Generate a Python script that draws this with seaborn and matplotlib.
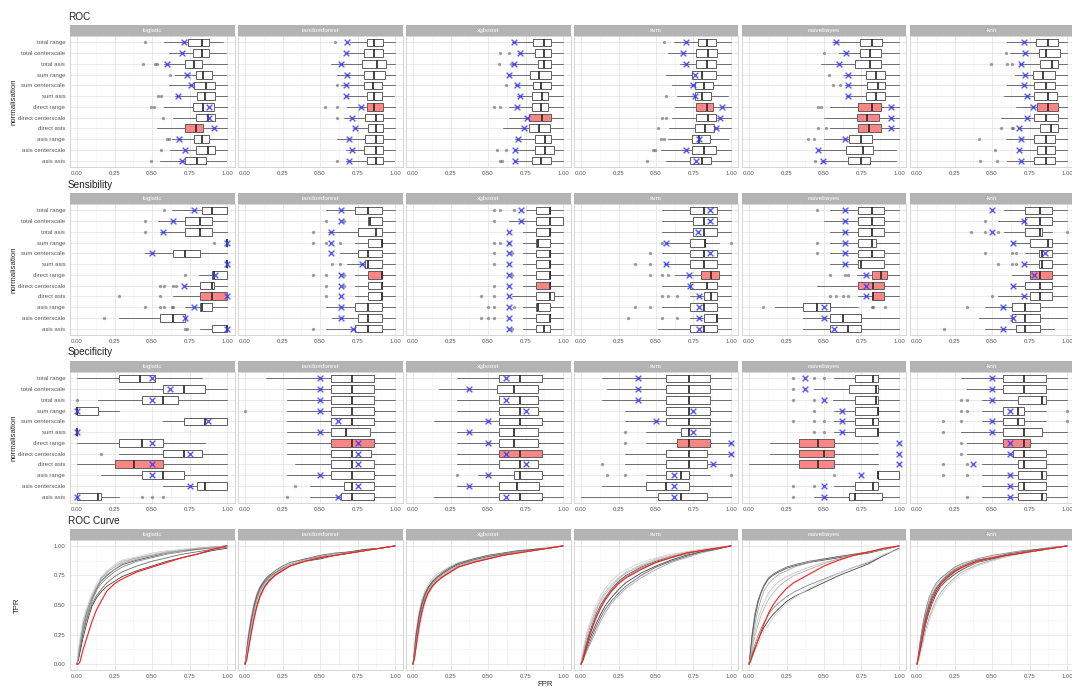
import matplotlib
matplotlib.use('Agg')
import matplotlib.pyplot as plt
import pandas as pd
import seaborn as sns

MODELS = ['logistic', 'randomforest', 'xgboost', 'svm', 'naivebayes', 'knn']
NORMALISATIONS = ['total range', 'total centerscale', 'total asis',
                  'sum range', 'sum centerscale', 'sum asis',
                  'direct range', 'direct centerscale', 'direct asis',
                  'asis range', 'asis centerscale', 'asis asis']
HIGHLIGHT = {
    'logistic': ['direct asis'],
    'randomforest': ['direct range'],
    'xgboost': ['direct centerscale'],
    'svm': ['direct range'],
    'naivebayes': ['direct range', 'direct centerscale', 'direct asis'],
    'knn': ['direct range'],
}

# one row per normalisation: (whisker low, q1, median, q3, whisker high, cross, outliers)
ROC_LOGISTIC = [
    (0.58, 0.74, 0.83, 0.88, 0.97, 0.71, [0.45]),
    (0.61, 0.77, 0.83, 0.88, 0.99, 0.70, []),
    (0.58, 0.72, 0.78, 0.83, 1.00, 0.60, [0.44, 0.52, 0.53]),
    (0.65, 0.79, 0.84, 0.90, 0.99, 0.73, [0.62]),
    (0.61, 0.78, 0.86, 0.92, 1.00, 0.76, []),
    (0.65, 0.80, 0.85, 0.92, 1.00, 0.67, [0.54, 0.56]),
    (0.58, 0.77, 0.84, 0.91, 1.00, 0.88, [0.49, 0.51]),
    (0.64, 0.79, 0.87, 0.92, 1.00, 0.88, [0.57]),
    (0.53, 0.72, 0.79, 0.84, 1.00, 0.91, []),
    (0.63, 0.78, 0.83, 0.88, 1.00, 0.68, [0.60, 0.61]),
    (0.62, 0.79, 0.87, 0.92, 1.00, 0.72, [0.56]),
    (0.55, 0.72, 0.80, 0.86, 0.99, 0.70, [0.49]),
]
ROC_RANDOMFOREST = [
    (0.70, 0.81, 0.86, 0.92, 1.00, 0.68, [0.60]),
    (0.68, 0.79, 0.86, 0.92, 1.00, 0.67, []),
    (0.57, 0.78, 0.88, 0.94, 1.00, 0.64, []),
    (0.61, 0.79, 0.86, 0.93, 1.00, 0.68, []),
    (0.64, 0.79, 0.85, 0.91, 1.00, 0.67, [0.61]),
    (0.67, 0.81, 0.86, 0.91, 0.99, 0.67, []),
    (0.68, 0.81, 0.86, 0.92, 1.00, 0.77, [0.53, 0.61]),
    (0.66, 0.80, 0.87, 0.92, 1.00, 0.71, [0.61]),
    (0.72, 0.82, 0.87, 0.92, 1.00, 0.73, []),
    (0.61, 0.80, 0.87, 0.92, 1.00, 0.69, []),
    (0.67, 0.79, 0.87, 0.92, 1.00, 0.71, []),
    (0.67, 0.81, 0.87, 0.92, 0.99, 0.69, [0.61]),
]
ROC_XGBOOST = [
    (0.66, 0.80, 0.87, 0.92, 1.00, 0.67, []),
    (0.70, 0.81, 0.87, 0.92, 1.00, 0.71, [0.58, 0.64]),
    (0.66, 0.83, 0.87, 0.92, 1.00, 0.67, [0.57, 0.65]),
    (0.63, 0.78, 0.84, 0.92, 1.00, 0.64, []),
    (0.68, 0.80, 0.85, 0.92, 1.00, 0.69, [0.62]),
    (0.69, 0.79, 0.86, 0.90, 1.00, 0.71, []),
    (0.64, 0.79, 0.85, 0.90, 1.00, 0.69, [0.54, 0.58]),
    (0.64, 0.77, 0.86, 0.92, 1.00, 0.76, []),
    (0.60, 0.77, 0.84, 0.91, 1.00, 0.74, []),
    (0.68, 0.81, 0.88, 0.92, 1.00, 0.70, []),
    (0.67, 0.81, 0.88, 0.94, 1.00, 0.68, [0.56, 0.62]),
    (0.67, 0.79, 0.85, 0.92, 1.00, 0.68, [0.58, 0.59]),
]
ROC_SVM = [
    (0.62, 0.78, 0.84, 0.90, 1.00, 0.70, [0.55]),
    (0.58, 0.77, 0.85, 0.91, 1.00, 0.68, []),
    (0.66, 0.77, 0.84, 0.90, 1.00, 0.70, []),
    (0.57, 0.74, 0.81, 0.90, 1.00, 0.76, []),
    (0.61, 0.76, 0.82, 0.88, 1.00, 0.75, []),
    (0.64, 0.76, 0.81, 0.87, 0.98, 0.76, [0.57]),
    (0.63, 0.77, 0.84, 0.88, 1.00, 0.94, []),
    (0.61, 0.77, 0.85, 0.90, 1.00, 0.93, [0.54, 0.57]),
    (0.59, 0.76, 0.83, 0.89, 1.00, 0.90, [0.51]),
    (0.58, 0.74, 0.79, 0.86, 0.98, 0.79, [0.53, 0.55]),
    (0.53, 0.74, 0.82, 0.90, 1.00, 0.70, [0.48, 0.49]),
    (0.57, 0.73, 0.81, 0.87, 1.00, 0.77, [0.44]),
]
ROC_NAIVEBAYES = [
    (0.55, 0.74, 0.82, 0.89, 1.00, 0.58, []),
    (0.60, 0.74, 0.81, 0.88, 1.00, 0.65, [0.50]),
    (0.48, 0.71, 0.81, 0.88, 1.00, 0.60, []),
    (0.63, 0.78, 0.85, 0.91, 1.00, 0.66, [0.53]),
    (0.64, 0.79, 0.86, 0.91, 1.00, 0.66, [0.56, 0.61]),
    (0.65, 0.78, 0.85, 0.91, 1.00, 0.66, []),
    (0.54, 0.73, 0.82, 0.88, 1.00, 0.95, [0.46, 0.48]),
    (0.50, 0.72, 0.79, 0.87, 1.00, 0.95, []),
    (0.54, 0.73, 0.80, 0.88, 1.00, 0.95, [0.46, 0.51]),
    (0.50, 0.67, 0.75, 0.82, 1.00, 0.64, [0.39, 0.43]),
    (0.46, 0.65, 0.76, 0.83, 0.98, 0.46, []),
    (0.48, 0.66, 0.75, 0.81, 0.98, 0.49, [0.44]),
]
ROC_KNN = [
    (0.60, 0.79, 0.87, 0.94, 1.00, 0.71, []),
    (0.62, 0.81, 0.86, 0.95, 1.00, 0.72, [0.59]),
    (0.68, 0.82, 0.90, 0.94, 1.00, 0.69, [0.49, 0.60, 0.63]),
    (0.65, 0.77, 0.84, 0.92, 1.00, 0.72, []),
    (0.60, 0.78, 0.86, 0.92, 1.00, 0.71, []),
    (0.58, 0.78, 0.87, 0.93, 1.00, 0.73, []),
    (0.66, 0.80, 0.87, 0.94, 1.00, 0.77, []),
    (0.56, 0.78, 0.86, 0.94, 1.00, 0.73, []),
    (0.67, 0.82, 0.89, 0.94, 1.00, 0.68, [0.56, 0.63, 0.64]),
    (0.59, 0.78, 0.86, 0.92, 1.00, 0.69, [0.41]),
    (0.67, 0.80, 0.86, 0.92, 1.00, 0.68, [0.52]),
    (0.60, 0.78, 0.86, 0.92, 1.00, 0.69, [0.42, 0.53]),
]

SENS_LOGISTIC = [
    (0.63, 0.83, 0.90, 1.00, 1.00, 0.78, [0.58]),
    (0.54, 0.72, 0.82, 0.90, 1.00, 0.64, [0.45]),
    (0.55, 0.72, 0.82, 0.90, 1.00, 0.57, [0.45]),
    (1.00, 1.00, 1.00, 1.00, 1.00, 1.00, [0.91]),
    (0.45, 0.64, 0.72, 0.82, 1.00, 0.50, []),
    (1.00, 1.00, 1.00, 1.00, 1.00, 1.00, []),
    (0.81, 0.90, 0.91, 1.00, 1.00, 0.92, [0.72]),
    (0.72, 0.82, 0.90, 0.91, 1.00, 0.71, [0.55, 0.58, 0.64, 0.66]),
    (0.64, 0.82, 0.90, 1.00, 1.00, 1.00, [0.28, 0.55]),
    (0.72, 0.82, 0.83, 0.90, 1.00, 0.78, [0.45, 0.55, 0.58, 0.63, 0.64]),
    (0.28, 0.55, 0.64, 0.72, 0.72, 0.72, [0.18]),
    (0.82, 0.90, 1.00, 1.00, 1.00, 1.00, [0.72, 0.73]),
]
SENS_RANDOMFOREST = [
    (0.54, 0.73, 0.82, 0.91, 1.00, 0.64, []),
    (0.82, 0.82, 0.83, 0.91, 1.00, 0.64, [0.54, 0.66]),
    (0.55, 0.75, 0.87, 0.91, 1.00, 0.57, [0.45]),
    (0.73, 0.82, 0.91, 0.91, 1.00, 0.57, [0.45, 0.54, 0.63]),
    (0.63, 0.75, 0.82, 0.91, 1.00, 0.57, []),
    (0.68, 0.80, 0.82, 0.91, 1.00, 0.78, [0.58, 0.63]),
    (0.73, 0.82, 0.91, 0.91, 1.00, 0.64, [0.45, 0.54, 0.66]),
    (0.73, 0.82, 0.91, 0.91, 1.00, 0.64, [0.54, 0.66]),
    (0.73, 0.82, 0.91, 0.91, 1.00, 0.64, [0.54]),
    (0.54, 0.73, 0.82, 0.91, 1.00, 0.64, []),
    (0.58, 0.75, 0.82, 0.91, 1.00, 0.64, []),
    (0.54, 0.73, 0.82, 0.91, 1.00, 0.72, [0.45]),
]
SENS_XGBOOST = [
    (0.75, 0.82, 0.91, 0.91, 1.00, 0.72, [0.54, 0.58, 0.67]),
    (0.64, 0.82, 0.91, 1.00, 1.00, 0.72, [0.54]),
    (0.73, 0.82, 0.91, 0.91, 1.00, 0.64, []),
    (0.73, 0.82, 0.83, 0.91, 1.00, 0.64, [0.54, 0.58, 0.64]),
    (0.73, 0.82, 0.91, 0.91, 1.00, 0.64, [0.54, 0.66]),
    (0.73, 0.82, 0.91, 0.91, 1.00, 0.64, [0.54]),
    (0.73, 0.82, 0.91, 0.91, 1.00, 0.64, [0.66]),
    (0.73, 0.82, 0.91, 0.91, 1.00, 0.64, [0.54]),
    (0.66, 0.82, 0.91, 0.94, 1.00, 0.64, [0.45, 0.54]),
    (0.73, 0.82, 0.83, 0.91, 1.00, 0.64, [0.50, 0.54, 0.67]),
    (0.73, 0.82, 0.91, 0.91, 1.00, 0.64, [0.45, 0.50, 0.54]),
    (0.73, 0.82, 0.87, 0.91, 1.00, 0.64, [0.66]),
]
SENS_SVM = [
    (0.54, 0.73, 0.82, 0.91, 1.00, 0.86, []),
    (0.54, 0.75, 0.82, 0.91, 1.00, 0.86, []),
    (0.54, 0.75, 0.82, 0.91, 1.00, 0.78, []),
    (0.57, 0.73, 0.83, 0.83, 0.92, 0.57, [0.54, 1.00]),
    (0.54, 0.73, 0.82, 0.91, 1.00, 0.86, [0.46]),
    (0.55, 0.73, 0.82, 0.91, 1.00, 0.57, [0.36, 0.46]),
    (0.63, 0.80, 0.87, 0.92, 1.00, 0.72, [0.46, 0.54, 0.58]),
    (0.54, 0.73, 0.84, 0.91, 1.00, 0.73, []),
    (0.73, 0.82, 0.87, 0.91, 1.00, 0.79, [0.54, 0.58, 0.64]),
    (0.54, 0.73, 0.82, 0.91, 1.00, 0.79, [0.36, 0.46]),
    (0.73, 0.82, 0.91, 0.91, 1.00, 0.79, [0.31, 0.54, 0.64]),
    (0.51, 0.73, 0.82, 0.91, 1.00, 0.79, []),
]
SENS_NAIVEBAYES = [
    (0.54, 0.73, 0.82, 0.90, 1.00, 0.64, [0.45]),
    (0.50, 0.73, 0.82, 0.90, 1.00, 0.64, []),
    (0.54, 0.73, 0.82, 0.90, 1.00, 0.64, []),
    (0.54, 0.73, 0.82, 0.85, 1.00, 0.64, [0.45]),
    (0.54, 0.73, 0.82, 0.90, 1.00, 0.64, [0.45]),
    (0.54, 0.73, 0.75, 0.90, 1.00, 0.64, []),
    (0.72, 0.82, 0.88, 0.92, 1.00, 0.78, [0.54, 0.64, 0.66]),
    (0.45, 0.73, 0.83, 0.90, 1.00, 0.78, []),
    (0.73, 0.82, 0.83, 0.90, 1.00, 0.78, [0.54, 0.58, 0.63, 0.66]),
    (0.17, 0.36, 0.45, 0.54, 0.73, 0.50, [0.09, 0.82, 0.83, 0.91]),
    (0.36, 0.54, 0.63, 0.75, 1.00, 0.50, []),
    (0.36, 0.54, 0.66, 0.75, 1.00, 0.57, []),
]
SENS_KNN = [
    (0.58, 0.72, 0.82, 0.90, 1.00, 0.50, []),
    (0.54, 0.72, 0.82, 0.90, 1.00, 0.71, [0.45]),
    (0.58, 0.72, 0.82, 0.83, 0.90, 0.50, [0.36, 0.45, 0.54, 1.00]),
    (0.64, 0.75, 0.87, 0.90, 1.00, 0.64, []),
    (0.72, 0.81, 0.83, 0.90, 1.00, 0.85, [0.45, 0.63, 0.66]),
    (0.72, 0.81, 0.83, 0.90, 1.00, 0.71, [0.54, 0.63, 0.66]),
    (0.63, 0.75, 0.82, 0.90, 1.00, 0.78, []),
    (0.64, 0.72, 0.82, 0.90, 1.00, 0.64, []),
    (0.54, 0.75, 0.82, 0.90, 1.00, 0.71, [0.50]),
    (0.45, 0.63, 0.72, 0.82, 1.00, 0.57, [0.33]),
    (0.41, 0.63, 0.72, 0.82, 1.00, 0.64, []),
    (0.45, 0.66, 0.72, 0.82, 0.91, 0.57, [0.18]),
]

SPEC_LOGISTIC = [
    (0.00, 0.28, 0.42, 0.52, 0.83, 0.50, []),
    (0.28, 0.57, 0.71, 0.85, 1.00, 0.62, []),
    (0.14, 0.43, 0.57, 0.67, 1.00, 0.50, [0.00]),
    (0.00, 0.00, 0.00, 0.14, 0.28, 0.00, []),
    (0.57, 0.71, 0.85, 1.00, 1.00, 0.87, []),
    (0.00, 0.00, 0.00, 0.00, 0.00, 0.00, []),
    (0.00, 0.28, 0.43, 0.57, 0.85, 0.50, []),
    (0.28, 0.57, 0.71, 0.83, 1.00, 0.75, [0.16]),
    (0.00, 0.25, 0.38, 0.57, 1.00, 0.50, []),
    (0.16, 0.43, 0.57, 0.71, 1.00, 0.50, []),
    (0.57, 0.80, 0.85, 1.00, 1.00, 0.75, []),
    (0.00, 0.00, 0.14, 0.16, 0.28, 0.00, [0.43, 0.50, 0.57]),
]
SPEC_RANDOMFOREST = [
    (0.14, 0.57, 0.71, 0.86, 1.00, 0.50, []),
    (0.28, 0.57, 0.71, 0.86, 1.00, 0.50, []),
    (0.28, 0.57, 0.71, 0.86, 1.00, 0.50, []),
    (0.28, 0.57, 0.71, 0.86, 1.00, 0.50, [0.00]),
    (0.28, 0.57, 0.71, 0.86, 1.00, 0.62, []),
    (0.28, 0.57, 0.67, 0.83, 1.00, 0.50, []),
    (0.28, 0.57, 0.71, 0.86, 1.00, 0.75, []),
    (0.28, 0.57, 0.71, 0.84, 1.00, 0.75, []),
    (0.33, 0.57, 0.71, 0.86, 1.00, 0.75, []),
    (0.28, 0.57, 0.71, 0.86, 1.00, 0.50, []),
    (0.43, 0.66, 0.71, 0.86, 1.00, 0.75, [0.33]),
    (0.43, 0.64, 0.71, 0.86, 1.00, 0.62, [0.28]),
]
SPEC_XGBOOST = [
    (0.29, 0.57, 0.71, 0.86, 1.00, 0.62, []),
    (0.17, 0.56, 0.67, 0.83, 1.00, 0.37, []),
    (0.29, 0.57, 0.71, 0.83, 1.00, 0.62, []),
    (0.29, 0.57, 0.71, 0.83, 1.00, 0.75, []),
    (0.14, 0.57, 0.71, 0.86, 1.00, 0.50, []),
    (0.29, 0.57, 0.67, 0.83, 1.00, 0.37, []),
    (0.29, 0.57, 0.67, 0.83, 1.00, 0.50, []),
    (0.29, 0.57, 0.71, 0.86, 1.00, 0.62, []),
    (0.29, 0.57, 0.71, 0.83, 1.00, 0.75, []),
    (0.43, 0.67, 0.71, 0.86, 1.00, 0.50, [0.29]),
    (0.29, 0.57, 0.69, 0.84, 1.00, 0.37, []),
    (0.14, 0.57, 0.71, 0.86, 1.00, 0.62, []),
]
SPEC_SVM = [
    (0.14, 0.57, 0.72, 0.86, 1.00, 0.38, []),
    (0.17, 0.57, 0.72, 0.86, 1.00, 0.38, []),
    (0.14, 0.57, 0.72, 0.86, 1.00, 0.38, []),
    (0.29, 0.57, 0.72, 0.86, 1.00, 0.75, []),
    (0.29, 0.57, 0.72, 0.86, 1.00, 0.50, []),
    (0.43, 0.67, 0.72, 0.86, 1.00, 0.75, [0.29]),
    (0.43, 0.64, 0.72, 0.86, 1.00, 1.00, [0.29]),
    (0.29, 0.57, 0.72, 0.84, 1.00, 1.00, []),
    (0.29, 0.57, 0.72, 0.84, 1.00, 0.88, [0.14]),
    (0.43, 0.57, 0.67, 0.72, 0.86, 0.62, [0.17, 0.29, 1.00]),
    (0.14, 0.43, 0.57, 0.72, 1.00, 0.62, []),
    (0.00, 0.51, 0.67, 0.84, 1.00, 0.62, []),
]
SPEC_NAIVEBAYES = [
    (0.57, 0.71, 0.83, 0.86, 1.00, 0.37, [0.29, 0.43, 0.50]),
    (0.43, 0.67, 0.85, 0.86, 1.00, 0.37, [0.29]),
    (0.56, 0.71, 0.85, 0.86, 1.00, 0.50, [0.29, 0.43]),
    (0.57, 0.71, 0.86, 0.86, 1.00, 0.62, [0.43]),
    (0.57, 0.71, 0.83, 0.86, 1.00, 0.62, [0.29, 0.43, 0.50]),
    (0.57, 0.71, 0.86, 0.86, 1.00, 0.62, [0.43, 0.50]),
    (0.14, 0.33, 0.46, 0.57, 0.86, 1.00, []),
    (0.14, 0.33, 0.50, 0.57, 0.86, 1.00, []),
    (0.00, 0.33, 0.46, 0.57, 0.86, 1.00, []),
    (0.86, 0.86, 0.86, 1.00, 1.00, 0.75, [0.57]),
    (0.57, 0.71, 0.83, 0.86, 1.00, 0.50, [0.29, 0.43]),
    (0.43, 0.67, 0.71, 0.89, 1.00, 0.50, [0.29]),
]
SPEC_KNN = [
    (0.29, 0.57, 0.71, 0.86, 1.00, 0.50, []),
    (0.33, 0.57, 0.71, 0.86, 1.00, 0.50, []),
    (0.43, 0.67, 0.83, 0.86, 1.00, 0.50, [0.29, 0.33]),
    (0.43, 0.57, 0.67, 0.71, 0.86, 0.62, [0.29, 0.33, 1.00]),
    (0.43, 0.57, 0.67, 0.71, 0.86, 0.50, [0.17, 0.29, 1.00]),
    (0.29, 0.57, 0.71, 0.83, 1.00, 0.50, [0.17]),
    (0.33, 0.57, 0.71, 0.75, 1.00, 0.62, [0.29]),
    (0.33, 0.64, 0.71, 0.86, 1.00, 0.62, [0.29]),
    (0.43, 0.67, 0.71, 0.86, 1.00, 0.37, [0.17, 0.33]),
    (0.43, 0.67, 0.83, 0.86, 1.00, 0.62, [0.17, 0.33]),
    (0.43, 0.67, 0.71, 0.86, 1.00, 0.62, []),
    (0.43, 0.67, 0.83, 0.86, 1.00, 0.62, [0.33]),
]

# ROC curves: TPR read at these FPR values
FPR_GRID = [0, 0.01, 0.02, 0.04, 0.06, 0.08, 0.1, 0.13, 0.16, 0.2,
            0.25, 0.3, 0.4, 0.5, 0.6, 0.7, 0.8, 0.9, 1.0]
CURVES_LOGISTIC = [
    [0, 0.08, 0.18, 0.33, 0.42, 0.50, 0.56, 0.64, 0.70, 0.75, 0.80, 0.84, 0.88, 0.91, 0.94, 0.96, 0.97, 0.99, 1.0],
    [0, 0.05, 0.12, 0.28, 0.38, 0.46, 0.53, 0.62, 0.73, 0.76, 0.80, 0.85, 0.89, 0.92, 0.95, 0.96, 0.98, 0.99, 1.0],
    [0, 0.10, 0.20, 0.35, 0.44, 0.52, 0.58, 0.66, 0.71, 0.77, 0.83, 0.87, 0.90, 0.93, 0.95, 0.97, 0.98, 0.99, 1.0],
    [0, 0.04, 0.10, 0.22, 0.32, 0.41, 0.49, 0.56, 0.61, 0.66, 0.70, 0.74, 0.79, 0.83, 0.87, 0.90, 0.93, 0.96, 0.98],
    [0, 0.06, 0.15, 0.30, 0.40, 0.48, 0.55, 0.63, 0.68, 0.73, 0.78, 0.82, 0.87, 0.90, 0.93, 0.95, 0.97, 0.98, 1.0],
    [0, 0.12, 0.22, 0.38, 0.46, 0.53, 0.60, 0.68, 0.74, 0.79, 0.84, 0.88, 0.91, 0.94, 0.96, 0.97, 0.98, 0.99, 1.0],
    [0, 0.05, 0.14, 0.26, 0.36, 0.44, 0.51, 0.58, 0.63, 0.69, 0.74, 0.78, 0.83, 0.87, 0.90, 0.93, 0.95, 0.97, 0.99],
    [0, 0.07, 0.16, 0.31, 0.41, 0.49, 0.57, 0.65, 0.72, 0.78, 0.82, 0.86, 0.90, 0.92, 0.94, 0.96, 0.98, 0.99, 1.0],
]
RED_LOGISTIC = [0, 0.00, 0.02, 0.12, 0.20, 0.28, 0.36, 0.46, 0.53, 0.62, 0.68, 0.72, 0.78, 0.82, 0.86, 0.90, 0.93, 0.97, 1.0]
CURVES_RANDOMFOREST = [
    [0, 0.10, 0.20, 0.35, 0.48, 0.58, 0.64, 0.70, 0.74, 0.77, 0.81, 0.84, 0.88, 0.90, 0.92, 0.94, 0.96, 0.98, 1.0],
    [0, 0.06, 0.15, 0.30, 0.43, 0.54, 0.61, 0.68, 0.72, 0.76, 0.80, 0.83, 0.87, 0.90, 0.92, 0.94, 0.96, 0.98, 1.0],
    [0, 0.12, 0.24, 0.40, 0.52, 0.60, 0.66, 0.71, 0.75, 0.78, 0.82, 0.85, 0.89, 0.91, 0.93, 0.95, 0.97, 0.98, 1.0],
    [0, 0.04, 0.12, 0.26, 0.40, 0.50, 0.58, 0.66, 0.71, 0.75, 0.79, 0.83, 0.87, 0.89, 0.92, 0.94, 0.96, 0.98, 1.0],
    [0, 0.08, 0.18, 0.33, 0.46, 0.56, 0.63, 0.69, 0.73, 0.77, 0.81, 0.84, 0.88, 0.91, 0.93, 0.95, 0.97, 0.98, 1.0],
    [0, 0.05, 0.14, 0.29, 0.42, 0.53, 0.60, 0.67, 0.72, 0.76, 0.80, 0.84, 0.88, 0.90, 0.93, 0.95, 0.96, 0.98, 1.0],
    [0, 0.09, 0.21, 0.37, 0.50, 0.59, 0.65, 0.71, 0.75, 0.79, 0.83, 0.86, 0.89, 0.92, 0.94, 0.95, 0.97, 0.98, 1.0],
    [0, 0.07, 0.16, 0.31, 0.44, 0.55, 0.62, 0.68, 0.73, 0.76, 0.80, 0.83, 0.87, 0.90, 0.92, 0.94, 0.96, 0.98, 1.0],
]
RED_RANDOMFOREST = [0, 0.03, 0.10, 0.25, 0.38, 0.49, 0.57, 0.65, 0.70, 0.75, 0.79, 0.83, 0.87, 0.90, 0.92, 0.94, 0.96, 0.98, 1.0]
CURVES_XGBOOST = [
    [0, 0.12, 0.25, 0.42, 0.53, 0.60, 0.65, 0.70, 0.73, 0.77, 0.81, 0.84, 0.88, 0.91, 0.93, 0.95, 0.97, 0.98, 1.0],
    [0, 0.08, 0.19, 0.36, 0.48, 0.56, 0.62, 0.68, 0.72, 0.76, 0.80, 0.83, 0.87, 0.90, 0.93, 0.95, 0.96, 0.98, 1.0],
    [0, 0.14, 0.28, 0.45, 0.55, 0.62, 0.67, 0.72, 0.76, 0.79, 0.83, 0.86, 0.89, 0.92, 0.94, 0.96, 0.97, 0.99, 1.0],
    [0, 0.06, 0.15, 0.31, 0.44, 0.53, 0.60, 0.66, 0.70, 0.74, 0.78, 0.82, 0.86, 0.89, 0.92, 0.94, 0.96, 0.98, 1.0],
    [0, 0.10, 0.22, 0.39, 0.50, 0.58, 0.64, 0.69, 0.73, 0.77, 0.81, 0.85, 0.88, 0.91, 0.93, 0.95, 0.97, 0.98, 1.0],
    [0, 0.05, 0.13, 0.28, 0.41, 0.51, 0.58, 0.65, 0.70, 0.75, 0.79, 0.83, 0.87, 0.90, 0.92, 0.94, 0.96, 0.98, 1.0],
    [0, 0.11, 0.24, 0.40, 0.51, 0.59, 0.64, 0.70, 0.74, 0.78, 0.82, 0.85, 0.89, 0.92, 0.94, 0.96, 0.97, 0.98, 1.0],
    [0, 0.07, 0.17, 0.34, 0.46, 0.55, 0.61, 0.67, 0.71, 0.75, 0.79, 0.83, 0.87, 0.90, 0.92, 0.95, 0.96, 0.98, 1.0],
]
RED_XGBOOST = [0, 0.05, 0.14, 0.32, 0.45, 0.54, 0.60, 0.66, 0.70, 0.74, 0.78, 0.82, 0.86, 0.89, 0.92, 0.94, 0.96, 0.98, 1.0]
CURVES_SVM = [
    [0, 0.05, 0.10, 0.20, 0.28, 0.35, 0.42, 0.50, 0.56, 0.63, 0.70, 0.75, 0.82, 0.87, 0.91, 0.94, 0.96, 0.98, 1.0],
    [0, 0.02, 0.05, 0.11, 0.17, 0.22, 0.28, 0.36, 0.43, 0.51, 0.58, 0.64, 0.73, 0.80, 0.86, 0.90, 0.94, 0.97, 1.0],
    [0, 0.07, 0.14, 0.25, 0.33, 0.40, 0.47, 0.55, 0.61, 0.67, 0.73, 0.78, 0.84, 0.89, 0.92, 0.95, 0.97, 0.98, 1.0],
    [0, 0.03, 0.07, 0.15, 0.22, 0.28, 0.34, 0.42, 0.49, 0.56, 0.63, 0.69, 0.77, 0.83, 0.88, 0.92, 0.95, 0.98, 1.0],
    [0, 0.04, 0.09, 0.18, 0.26, 0.33, 0.40, 0.48, 0.55, 0.62, 0.69, 0.74, 0.81, 0.86, 0.90, 0.93, 0.96, 0.98, 1.0],
    [0, 0.08, 0.16, 0.28, 0.36, 0.43, 0.50, 0.58, 0.64, 0.70, 0.76, 0.80, 0.86, 0.90, 0.93, 0.95, 0.97, 0.99, 1.0],
    [0, 0.02, 0.06, 0.13, 0.19, 0.25, 0.31, 0.39, 0.46, 0.53, 0.60, 0.66, 0.75, 0.82, 0.87, 0.91, 0.95, 0.97, 1.0],
    [0, 0.06, 0.12, 0.23, 0.31, 0.38, 0.45, 0.53, 0.59, 0.65, 0.72, 0.77, 0.83, 0.88, 0.91, 0.94, 0.96, 0.98, 1.0],
]
RED_SVM = [0, 0.03, 0.08, 0.17, 0.25, 0.32, 0.39, 0.47, 0.54, 0.61, 0.68, 0.73, 0.80, 0.86, 0.90, 0.94, 0.96, 0.98, 1.0]
CURVES_NAIVEBAYES = [
    [0, 0.10, 0.22, 0.40, 0.52, 0.60, 0.66, 0.72, 0.75, 0.78, 0.81, 0.83, 0.86, 0.88, 0.90, 0.92, 0.94, 0.97, 1.0],
    [0, 0.08, 0.18, 0.34, 0.46, 0.55, 0.62, 0.68, 0.72, 0.76, 0.79, 0.82, 0.86, 0.89, 0.91, 0.93, 0.95, 0.98, 1.0],
    [0, 0.06, 0.14, 0.28, 0.38, 0.46, 0.52, 0.60, 0.65, 0.70, 0.74, 0.77, 0.82, 0.86, 0.89, 0.92, 0.95, 0.97, 1.0],
    [0, 0.03, 0.07, 0.14, 0.20, 0.26, 0.31, 0.37, 0.42, 0.47, 0.53, 0.57, 0.63, 0.69, 0.75, 0.80, 0.85, 0.92, 0.98],
    [0, 0.04, 0.09, 0.17, 0.24, 0.30, 0.35, 0.42, 0.47, 0.52, 0.57, 0.61, 0.67, 0.72, 0.77, 0.82, 0.86, 0.92, 0.98],
    [0, 0.02, 0.05, 0.11, 0.17, 0.22, 0.27, 0.33, 0.39, 0.45, 0.51, 0.56, 0.64, 0.71, 0.77, 0.82, 0.87, 0.93, 0.97],
    [0, 0.12, 0.25, 0.43, 0.54, 0.61, 0.67, 0.73, 0.76, 0.79, 0.82, 0.84, 0.87, 0.89, 0.91, 0.93, 0.95, 0.97, 1.0],
    [0, 0.05, 0.12, 0.24, 0.33, 0.41, 0.47, 0.55, 0.60, 0.66, 0.71, 0.75, 0.80, 0.85, 0.89, 0.92, 0.95, 0.97, 1.0],
]
RED_NAIVEBAYES = [0, 0.02, 0.06, 0.13, 0.20, 0.27, 0.34, 0.43, 0.50, 0.57, 0.64, 0.69, 0.76, 0.83, 0.88, 0.92, 0.95, 0.98, 1.0]
CURVES_KNN = [
    [0, 0.06, 0.14, 0.28, 0.40, 0.49, 0.56, 0.64, 0.69, 0.74, 0.79, 0.82, 0.87, 0.90, 0.92, 0.94, 0.96, 0.98, 1.0],
    [0, 0.04, 0.09, 0.20, 0.30, 0.39, 0.46, 0.55, 0.61, 0.67, 0.73, 0.78, 0.84, 0.88, 0.91, 0.94, 0.96, 0.98, 1.0],
    [0, 0.08, 0.17, 0.33, 0.45, 0.54, 0.60, 0.67, 0.72, 0.76, 0.81, 0.84, 0.88, 0.91, 0.93, 0.95, 0.97, 0.98, 1.0],
    [0, 0.05, 0.11, 0.24, 0.35, 0.44, 0.51, 0.60, 0.66, 0.71, 0.76, 0.80, 0.86, 0.89, 0.92, 0.94, 0.96, 0.98, 1.0],
    [0, 0.09, 0.19, 0.35, 0.47, 0.56, 0.62, 0.69, 0.73, 0.77, 0.82, 0.85, 0.89, 0.92, 0.94, 0.96, 0.97, 0.99, 1.0],
    [0, 0.03, 0.07, 0.17, 0.27, 0.36, 0.43, 0.52, 0.58, 0.65, 0.71, 0.76, 0.83, 0.87, 0.91, 0.93, 0.96, 0.98, 1.0],
    [0, 0.07, 0.15, 0.30, 0.42, 0.51, 0.58, 0.65, 0.70, 0.75, 0.80, 0.83, 0.88, 0.90, 0.93, 0.95, 0.97, 0.98, 1.0],
    [0, 0.05, 0.12, 0.26, 0.37, 0.46, 0.53, 0.62, 0.67, 0.72, 0.78, 0.81, 0.86, 0.90, 0.92, 0.94, 0.96, 0.98, 1.0],
]
RED_KNN = [0, 0.05, 0.12, 0.25, 0.37, 0.46, 0.54, 0.62, 0.68, 0.73, 0.78, 0.82, 0.87, 0.90, 0.92, 0.94, 0.96, 0.98, 1.0]

BOX_ROWS = [
    ('ROC', [ROC_LOGISTIC, ROC_RANDOMFOREST, ROC_XGBOOST, ROC_SVM, ROC_NAIVEBAYES, ROC_KNN]),
    ('Sensibility', [SENS_LOGISTIC, SENS_RANDOMFOREST, SENS_XGBOOST, SENS_SVM, SENS_NAIVEBAYES, SENS_KNN]),
    ('Specificity', [SPEC_LOGISTIC, SPEC_RANDOMFOREST, SPEC_XGBOOST, SPEC_SVM, SPEC_NAIVEBAYES, SPEC_KNN]),
]
CURVES = [CURVES_LOGISTIC, CURVES_RANDOMFOREST, CURVES_XGBOOST, CURVES_SVM, CURVES_NAIVEBAYES, CURVES_KNN]
REDS = [RED_LOGISTIC, RED_RANDOMFOREST, RED_XGBOOST, RED_SVM, RED_NAIVEBAYES, RED_KNN]
GREYS = ['#444444', '#9a9a9a', '#bdbdbd', '#2e2e2e', '#7a7a7a', '#cfcfcf', '#5c5c5c', '#aaaaaa']

W, H = 1072, 687
PANEL_TOPS = [36, 204, 372, 540]
PANEL_H = 131
STRIP_H = 11
TITLE_Y = [17, 185, 352, 521]
TICKS = [0, 0.25, 0.5, 0.75, 1.0]
TICK_LABELS = ['0.00', '0.25', '0.50', '0.75', '1.00']

sns.set_theme(style='white')
plt.rcParams['font.family'] = ['Liberation Sans', 'DejaVu Sans']


def rect(left, top, width, height):
    return [left / W, 1 - (top + height) / H, width / W, height / H]


def panel_left(col):
    return 77 + 168 * col - 7.5


def style_panel(ax, first_col):
    ax.set_xlim(-0.05, 1.05)
    ax.set_xticks(TICKS)
    ax.set_xticklabels(TICK_LABELS)
    ax.set_xticks([0.125, 0.375, 0.625, 0.875], minor=True)
    ax.grid(which='major', color='#e6e6e6', lw=0.6)
    ax.grid(which='minor', color='#f2f2f2', lw=0.4)
    ax.set_axisbelow(True)
    ax.tick_params(which='both', length=0, labelsize=4.3, labelcolor='#555555', pad=3)
    if not first_col:
        ax.tick_params(axis='y', labelleft=False)
    for s in ax.spines.values():
        s.set_color('#d0d0d0')
        s.set_linewidth(0.6)
    ax.set_xlabel('')
    ax.set_ylabel('')


def add_strip(fig, col, top, name):
    sax = fig.add_axes(rect(panel_left(col), top - STRIP_H, 165, STRIP_H))
    sax.set_facecolor('#b3b3b3')
    sax.set_xticks([])
    sax.set_yticks([])
    for s in sax.spines.values():
        s.set_visible(False)
    sax.text(0.5, 0.5, name, color='white', fontsize=4.6, ha='center', va='center',
             transform=sax.transAxes)


def draw_boxes(ax, rows, model):
    pos = list(range(len(NORMALISATIONS)))
    stats = []
    for name, (lo, q1, med, q3, hi, cross, fliers) in zip(NORMALISATIONS, rows):
        stats.append(dict(label=name, whislo=lo, q1=q1, med=med, q3=q3, whishi=hi, fliers=fliers))
    kw = dict(positions=pos, widths=0.72, patch_artist=True, showcaps=False, manage_ticks=False,
              boxprops=dict(facecolor='white', edgecolor='#5e5e5e', linewidth=0.7),
              whiskerprops=dict(color='#6e6e6e', linewidth=0.7),
              medianprops=dict(color='#333333', linewidth=1.3),
              flierprops=dict(marker='o', markersize=2.4, markerfacecolor='#555555',
                              markeredgecolor='none', alpha=0.55))
    try:
        art = ax.bxp(stats, orientation='horizontal', **kw)
    except TypeError:
        art = ax.bxp(stats, vert=False, **kw)
    for name, box in zip(NORMALISATIONS, art['boxes']):
        if name in HIGHLIGHT[model]:
            box.set_facecolor('#ff8585')
    crosses = pd.DataFrame({'value': [r[5] for r in rows], 'pos': pos})
    sns.scatterplot(data=crosses, x='value', y='pos', marker='x', color='#3b3bff',
                    s=17, linewidth=1.0, alpha=0.85, ax=ax, zorder=5)
    ax.set_yticks(pos)
    ax.set_yticklabels(NORMALISATIONS)
    ax.set_ylim(len(pos) - 0.4, -0.6)


fig = plt.figure(figsize=(W / 100, H / 100), dpi=100)

for r, (title, panels) in enumerate(BOX_ROWS):
    top = PANEL_TOPS[r]
    fig.text(68 / W, 1 - TITLE_Y[r] / H, title, fontsize=7.2, color='#222222', va='center')
    fig.text(14 / W, 1 - (top + PANEL_H / 2) / H, 'normalisation', fontsize=5.6,
             color='#222222', rotation=90, va='center', ha='center')
    for c, model in enumerate(MODELS):
        ax = fig.add_axes(rect(panel_left(c), top, 165, PANEL_H))
        draw_boxes(ax, panels[c], model)
        style_panel(ax, c == 0)
        ax.grid(axis='y', which='minor', visible=False)
        add_strip(fig, c, top, model)

# ROC curve row
top = PANEL_TOPS[3]
fig.text(68 / W, 1 - TITLE_Y[3] / H, 'ROC Curve', fontsize=7.2, color='#222222', va='center')
fig.text(17 / W, 1 - (top + 65) / H, 'TPR', fontsize=5.6, color='#222222', rotation=90,
         va='center', ha='center')
fig.text(545 / W, 1 - 684 / H, 'FPR', fontsize=5.6, color='#222222', va='center', ha='center')
for c, model in enumerate(MODELS):
    ax = fig.add_axes(rect(panel_left(c), top, 165, 130))
    frames = []
    for i, tpr in enumerate(CURVES[c]):
        frames.append(pd.DataFrame({'fpr': FPR_GRID, 'tpr': tpr, 'curve': 'c%d' % i}))
    curves = pd.concat(frames)
    pal = {'c%d' % i: GREYS[i % len(GREYS)] for i in range(len(CURVES[c]))}
    sns.lineplot(data=curves, x='fpr', y='tpr', hue='curve', palette=pal, estimator=None,
                 sort=False, linewidth=0.6, alpha=0.9, legend=False, ax=ax)
    red = pd.DataFrame({'fpr': FPR_GRID, 'tpr': REDS[c]})
    sns.lineplot(data=red, x='fpr', y='tpr', color='#ff1a1a', estimator=None, sort=False,
                 linewidth=0.8, ax=ax)
    ax.set_ylim(-0.05, 1.05)
    ax.set_yticks(TICKS)
    ax.set_yticklabels(TICK_LABELS)
    ax.set_yticks([0.125, 0.375, 0.625, 0.875], minor=True)
    style_panel(ax, c == 0)
    add_strip(fig, c, top, model)

fig.savefig('out.png', dpi=100)
